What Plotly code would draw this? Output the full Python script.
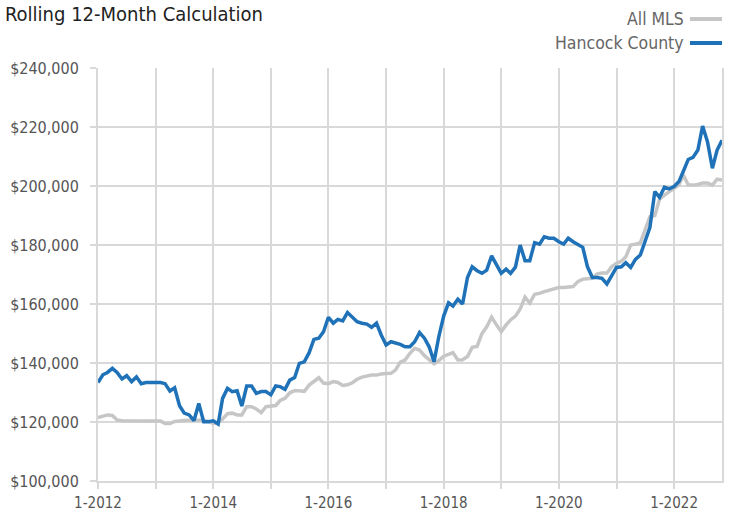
import pandas as pd
import plotly.graph_objects as go

months = pd.date_range("2012-01-01", periods=131, freq="MS")

all_mls = [
    121.5, 122.0, 122.4, 122.2, 120.7, 120.4, 120.4, 120.4, 120.4, 120.4,
    120.4, 120.4, 120.4, 120.3, 119.5, 119.5, 120.2, 120.5, 120.5, 120.6,
    120.6, 120.6, 120.6, 120.2, 119.5, 119.8, 121.0, 122.8, 123.0, 122.4,
    122.4, 125.2, 125.2, 124.4, 123.2, 125.2, 125.4, 125.6, 127.3, 128.0,
    129.9, 130.6, 130.6, 130.4, 132.5, 133.8, 135.0, 133.2, 133.0, 133.7,
    133.4, 132.4, 132.6, 133.3, 134.5, 135.2, 135.6, 135.9, 135.9, 136.3,
    136.4, 136.5, 137.6, 140.3, 141.0, 143.3, 145.0, 144.4, 142.5, 141.0,
    139.7, 140.8, 142.3, 142.9, 143.5, 141.0, 141.1, 142.2, 145.3, 145.6,
    150.0, 152.3, 155.5, 153.0, 150.6, 152.9, 154.6, 155.9, 158.3, 162.3,
    160.3, 163.3, 163.6, 164.2, 164.7, 165.3, 165.6, 165.6, 165.7, 165.9,
    167.6, 168.4, 168.6, 168.7, 170.2, 170.5, 170.5, 172.6, 173.8, 174.5,
    176.0, 180.0, 180.3, 180.7, 185.1, 189.6, 190.0, 195.5, 196.9, 198.0,
    199.3, 200.4, 203.7, 200.3, 200.3, 200.5, 201.0, 201.0, 200.3, 202.3,
    202.0,
]

hancock = [
    133.4, 136.0, 136.8, 138.2, 136.8, 134.6, 135.7, 133.7, 135.3, 133.0,
    133.4, 133.4, 133.4, 133.4, 133.0, 130.5, 131.6, 125.5, 123.0, 122.4,
    120.5, 126.3, 120.1, 120.1, 120.4, 119.3, 128.0, 131.4, 130.3, 130.6,
    125.4, 132.2, 132.2, 129.7, 130.3, 130.3, 129.2, 132.2, 132.0, 131.1,
    134.2, 135.1, 139.9, 140.4, 143.5, 148.0, 148.4, 150.6, 155.5, 153.5,
    154.8, 154.3, 157.1, 155.7, 154.0, 153.5, 153.2, 152.1, 153.5, 149.5,
    146.1, 147.2, 146.9, 146.3, 145.5, 145.5, 147.2, 150.3, 148.4, 145.5,
    140.4, 148.9, 155.9, 160.4, 159.3, 161.6, 160.0, 169.0, 172.6, 171.3,
    170.4, 171.5, 176.3, 173.2, 170.4, 171.8, 170.4, 172.5, 180.0, 174.7,
    174.7, 180.8, 180.3, 182.8, 182.3, 182.3, 181.1, 180.3, 182.3, 181.1,
    180.0, 179.2, 172.6, 169.0, 169.0, 168.7, 166.8, 169.8, 172.4, 172.6,
    174.0, 172.4, 175.1, 176.6, 181.7, 186.0, 198.1, 196.2, 199.6, 199.0,
    199.8, 201.5, 205.0, 209.0, 209.7, 212.2, 220.3, 215.0, 206.0, 212.2,
    215.5,
]

y_ticks = [100000, 120000, 140000, 160000, 180000, 200000, 220000, 240000]
series_names = ["All MLS", "Hancock County"]
series_colors = ["#c6c6c6", "#1f72b8"]

FONT = "DejaVu Sans Condensed, Liberation Sans Narrow, Roboto, sans-serif"

fig = go.Figure()
for name, vals, col in zip(series_names, [all_mls, hancock], series_colors):
    fig.add_trace(go.Scatter(
        x=months, y=[v * 1000 for v in vals], mode="lines", name=name,
        line=dict(color=col, width=3.5), showlegend=False,
    ))

fig.update_layout(
    width=732, height=514,
    margin=dict(l=98, r=10, t=68, b=33, autoexpand=False),
    paper_bgcolor="white", plot_bgcolor="white",
    font=dict(family=FONT, color="#555555", size=15),
    xaxis=dict(
        range=[months[0], months[-1]],
        tickformat="%-m-%Y", dtick="M24", tick0="2012-01-01",
        showgrid=True, gridcolor="#d9d9d9", gridwidth=2,
        ticks="outside", ticklen=6, tickcolor="#d9d9d9", tickwidth=2,
        minor=dict(dtick="M12", showgrid=True, gridcolor="#d9d9d9", gridwidth=2,
                   ticks="outside", ticklen=6, tickcolor="#d9d9d9", tickwidth=2),
        showline=True, linecolor="#d9d9d9", linewidth=2,
        tickfont=dict(size=15, color="#555555"),
        ticklabelstandoff=1,
        zeroline=False, automargin=False,
    ),
    yaxis=dict(
        range=[100000, 240000],
        tickvals=y_ticks, ticktext=[f"${v:,.0f}" for v in y_ticks],
        showgrid=True, gridcolor="#d9d9d9", gridwidth=2,
        ticks="outside", ticklen=6, tickcolor="#d9d9d9", tickwidth=2,
        showline=True, mirror=True, linecolor="#d9d9d9", linewidth=2,
        tickfont=dict(size=16, color="#555555"),
        ticklabelstandoff=8,
        zeroline=False, automargin=False,
    ),
)

fig.add_annotation(
    text="Rolling 12-Month Calculation", xref="paper", yref="paper",
    x=-98 / 624, y=1 + 68 / 413, xanchor="left", yanchor="top",
    showarrow=False, font=dict(size=20, color="#222222", family=FONT),
    xshift=3, yshift=0,
)

legend_y = [19, 43]
for name, col, ly in zip(series_names, series_colors, legend_y):
    yp = 1 + (68 - ly) / 413
    fig.add_annotation(
        text=name, xref="paper", yref="paper", x=(686 - 98) / 624, y=yp,
        xanchor="right", yanchor="middle", showarrow=False,
        font=dict(size=17.5, color="#666666", family=FONT),
    )
    fig.add_shape(
        type="line", xref="paper", yref="paper",
        x0=(690 - 98) / 624, x1=(722 - 98) / 624, y0=yp, y1=yp,
        line=dict(color=col, width=4),
    )

fig.write_html(
    "out.html",
    config={"displayModeBar": False},
    post_script="document.body.style.margin='0';document.body.style.padding='0';",
)
